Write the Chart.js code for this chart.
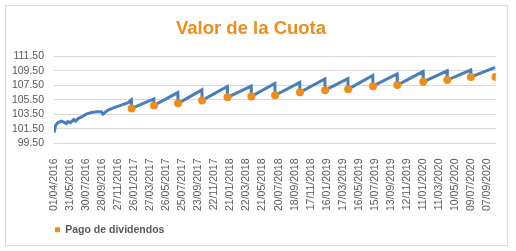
<!DOCTYPE html>
<html>
<head>
<meta charset="utf-8">
<script src="https://cdn.jsdelivr.net/npm/chart.js@4.4.1/dist/chart.umd.min.js"></script>
<style>
  body { margin: 0; background: #fff; }
  #box { position: absolute; left: 5px; top: 5px; width: 501px; height: 239px; border: 1px solid #d9d9d9; }
</style>
</head>
<body>
<div id="box"><canvas id="chart"></canvas></div>
<script>
// x = days since 01/04/2016, one tick label every 60 days
const tickLabels = ['01/04/2016', '31/05/2016', '30/07/2016', '28/09/2016', '27/11/2016', '26/01/2017',
  '27/03/2017', '26/05/2017', '25/07/2017', '23/09/2017', '22/11/2017', '21/01/2018', '22/03/2018',
  '21/05/2018', '20/07/2018', '18/09/2018', '17/11/2018', '16/01/2019', '17/03/2019', '16/05/2019',
  '15/07/2019', '13/09/2019', '12/11/2019', '11/01/2020', '11/03/2020', '10/05/2020', '09/07/2020',
  '07/09/2020'];

// valor de la cuota (vertices of the line)
const lineDays = [0, 6, 15, 28, 40, 46, 52, 61, 74, 81, 90, 103, 121, 140, 159, 177, 183, 202, 227, 252, 277, 289,
  290, 373, 374, 463, 464, 553, 554, 648, 649, 737, 738, 826, 827, 919, 920, 1013, 1014, 1099, 1100,
  1192, 1193, 1283, 1284, 1380, 1381, 1470, 1471, 1558, 1559, 1650];
const lineValues = [100.97, 101.99, 102.37, 102.56, 102.37, 102.24, 102.52, 102.37, 102.79, 102.56, 102.93, 103.15,
  103.53, 103.77, 103.85, 103.85, 103.53, 104.09, 104.46, 104.78, 105.10, 105.48,
  104.32, 105.62, 104.74, 106.50, 105.02, 106.87, 105.42, 107.33, 105.85, 107.38, 105.97, 107.75, 106.12,
  107.88, 106.55, 108.36, 106.83, 108.40, 106.97, 108.86, 107.38, 109.05, 107.54, 109.39, 107.98,
  109.49, 108.22, 109.60, 108.65, 109.97];

// pago de dividendos
const dividendDays = [290, 374, 464, 554, 649, 738, 827, 920, 1014, 1100, 1193, 1284, 1381, 1471, 1559, 1651];
const dividendValues = [104.32, 104.74, 105.02, 105.42, 105.85, 105.97, 106.12, 106.55, 106.83, 106.97,
  107.38, 107.54, 107.98, 108.22, 108.65, 108.65];

const blue = '#4a7ebb';
const orange = '#ee8c1c';
const grey = '#595959';
const legendPad = 11;

// move the legend so it starts under the plot area, like in Excel
const legendShift = {
  id: 'legendShift',
  afterLayout(chart) {
    chart.legend.left = chart.chartArea.left - legendPad + 1;
  }
};

const ctx = document.getElementById('chart').getContext('2d');
new Chart(ctx, {
  type: 'line',
  data: {
    datasets: [{
      label: 'Valor de la Cuota',
      data: lineDays.map((d, i) => ({ x: d, y: lineValues[i] })),
      borderColor: blue,
      backgroundColor: blue,
      borderWidth: 3,
      pointRadius: 0,
      tension: 0,
      order: 2,
    }, {
      label: 'Pago de dividendos',
      data: dividendDays.map((d, i) => ({ x: d, y: dividendValues[i] })),
      showLine: false,
      pointRadius: 4,
      pointBackgroundColor: orange,
      pointBorderWidth: 0,
      borderColor: orange,
      backgroundColor: orange,
      order: 1,
    }],
  },
  options: {
    responsive: true,
    maintainAspectRatio: false,
    animation: false,
    layout: { padding: { left: 0, right: 11, top: 0, bottom: 0 } },
    plugins: {
      title: {
        display: true,
        text: 'Valor de la Cuota',
        color: orange,
        font: { family: 'Liberation Sans', size: 18.5, weight: 'bold' },
        padding: { top: 12, bottom: 16 },
      },
      legend: {
        position: 'bottom',
        align: 'start',
        labels: {
          filter: item => item.datasetIndex === 1,
          usePointStyle: true,
          pointStyle: 'rect',
          boxWidth: 5,
          boxHeight: 5,
          padding: legendPad,
          color: grey,
          font: { family: 'Liberation Sans', size: 10.5, weight: 'bold' },
        },
      },
      tooltip: { enabled: false },
    },
    scales: {
      x: {
        type: 'linear',
        min: 0,
        max: 1652,
        grid: { display: false },
        border: { display: false },
        afterBuildTicks: scale => {
          scale.ticks = tickLabels.map((t, i) => ({ value: i * 60 }));
        },
        afterFit: scale => { scale.height = 70; },
        ticks: {
          autoSkip: false,
          minRotation: 90,
          maxRotation: 90,
          padding: 7,
          color: grey,
          font: { family: 'Liberation Sans', size: 10.5 },
          callback: (v) => tickLabels[Math.round(v / 60)],
        },
      },
      y: {
        min: 99.5,
        max: 111.5,
        grid: { color: '#d9d9d9', drawTicks: false },
        border: { display: false },
        afterFit: scale => { scale.width = 48; },
        ticks: {
          stepSize: 2,
          autoSkip: false,
          padding: 10,
          color: grey,
          font: { family: 'Liberation Sans', size: 10.5 },
          callback: v => v.toFixed(2),
        },
      },
    },
  },
  plugins: [legendShift],
});
</script>
</body>
</html>
